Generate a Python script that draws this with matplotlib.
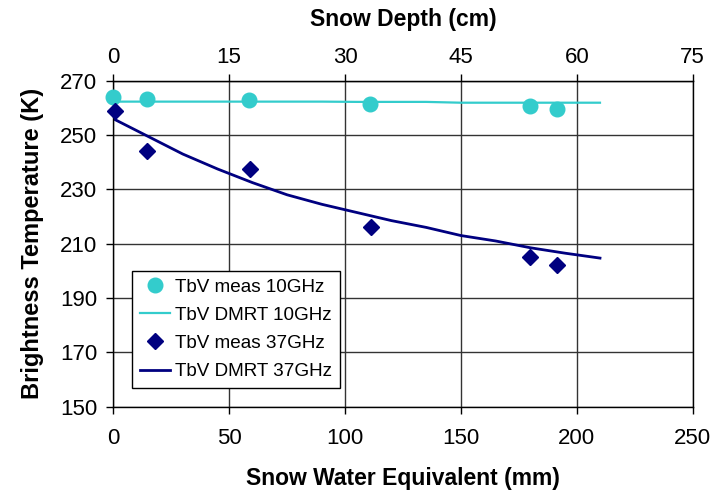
import matplotlib as mpl
mpl.use('Agg')
import matplotlib.pyplot as plt

plt.rcParams['font.family'] = ['Liberation Sans', 'DejaVu Sans']

# measured points (SWE mm, Tb K)
swe_meas_10 = [0, 14.4, 58.7, 110.7, 179.9, 191.3]
tb_meas_10 = [264.0, 263.3, 262.9, 261.3, 260.7, 259.7]
swe_meas_37 = [0.7, 14.7, 59.0, 111.2, 180.0, 191.5]
tb_meas_37 = [259.0, 244.3, 237.6, 216.2, 205.1, 202.1]

# DMRT model curves
swe_model = [0, 15, 30, 45, 60, 75, 90, 105, 120, 135, 150, 165, 180, 195, 210]
tb_dmrt_10 = [262.3, 262.3, 262.3, 262.3, 262.3, 262.3, 262.3, 262.2, 262.2, 262.2,
              261.9, 261.9, 261.9, 261.9, 261.9]
tb_dmrt_37 = [256.0, 249.5, 243.0, 237.5, 232.5, 228.0, 224.5, 221.5, 218.5, 216.0,
              213.0, 211.0, 208.5, 206.5, 204.7]

cyan = '#33CCCC'
navy = '#000080'

fig = plt.figure(figsize=(7.28, 4.9), dpi=100)
ax = fig.add_axes([0.1556, 0.17, 0.7959, 0.6653])

ax.plot(swe_meas_10, tb_meas_10, 'o', color=cyan, markersize=10.5, label='TbV meas 10GHz',
        zorder=3, clip_on=False)
ax.plot(swe_model, tb_dmrt_10, '-', color=cyan, linewidth=1.6, label='TbV DMRT 10GHz', zorder=2)
ax.plot(swe_meas_37, tb_meas_37, 'D', color=navy, markersize=8, label='TbV meas 37GHz',
        zorder=3, clip_on=False)
ax.plot(swe_model, tb_dmrt_37, '-', color=navy, linewidth=2, label='TbV DMRT 37GHz', zorder=2)

ax.set_xlim(0, 250)
ax.set_ylim(150, 270)
ax.set_xticks(range(0, 251, 50))
ax.set_yticks(range(150, 271, 20))
ax.grid(True, color='#333333', linewidth=1)
ax.set_axisbelow(True)
for sp in ax.spines.values():
    sp.set_color('black')
    sp.set_linewidth(1)
ax.tick_params(direction='out', length=5, width=1, labelsize=16, colors='black')
ax.tick_params(axis='y', pad=6.5)
ax.tick_params(axis='x', pad=10.5)

ax.set_xlabel('Snow Water Equivalent (mm)', fontsize=16.5, fontweight='bold', va='center')
ax.xaxis.set_label_coords(0.5, -0.219)
ax.set_ylabel('Brightness Temperature (K)', fontsize=17, fontweight='bold', va='center')
ax.yaxis.set_label_coords(-0.1386, 0.5)

# top axis: snow depth in cm (1 cm ~ 10/3 mm SWE)
top = ax.secondary_xaxis('top', functions=(lambda x: x * 0.3, lambda x: x / 0.3))
top.set_xticks(range(0, 76, 15))
top.tick_params(direction='out', length=5, width=1, labelsize=16, pad=4.5)
top.set_xlabel('Snow Depth (cm)', fontsize=16.5, fontweight='bold', va='center')
top.xaxis.set_label_coords(0.5, 1.189, transform=ax.transAxes)

leg = ax.legend(loc='lower left', bbox_to_anchor=(0.0328, 0.058), fontsize=13.6, frameon=True,
                fancybox=False, edgecolor='black', framealpha=1, borderpad=0.4,
                handlelength=1.6, handletextpad=0.27, labelspacing=0.58, borderaxespad=0)
leg.get_frame().set_linewidth(1)

fig.savefig('out.png', dpi=100)
